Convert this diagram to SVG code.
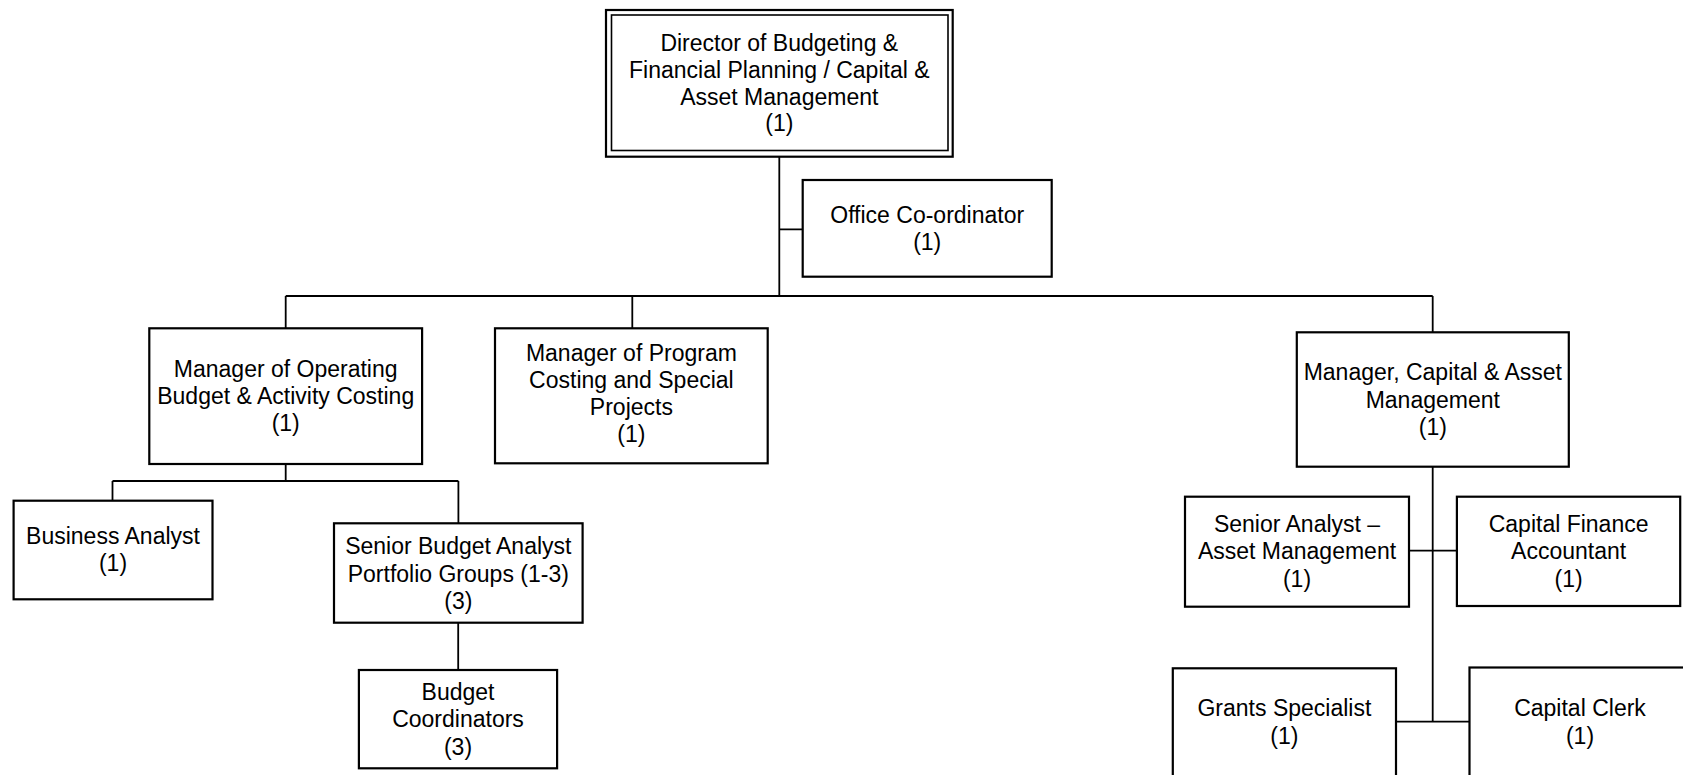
<svg xmlns="http://www.w3.org/2000/svg" width="1683" height="775" viewBox="0 0 1683 775">
<style>
.box{fill:#fff;stroke:#000;stroke-width:2.2}
.inner{fill:none;stroke:#000;stroke-width:1.6}
.t{font-family:"Liberation Sans",Arial,sans-serif;font-size:23px;fill:#000;text-anchor:middle}
.c{stroke:#000;stroke-width:1.8;fill:none}
</style>
<rect width="1683" height="775" fill="#fff"/>
<g id="connectors">
<path class="c" d="M779.3 156.7V296M779.3 229.3H802.7M285.7 296H1432.7M285.7 296V328.3M632.3 296V328.3M1432.7 296V332.3"/>
<path class="c" d="M285.7 464V481M112.5 481H458.4M112.5 481V500.7M458.4 481V523.3M458.2 622.7V670"/>
<path class="c" d="M1432.7 466.7V721.7M1409 550.7H1456.9M1396 721.7H1469.5"/>
</g>
<g id="director">
<rect class="box" x="606" y="10" width="346.7" height="146.7" stroke-width="2.6"/>
<rect class="inner" x="611.5" y="15" width="336.5" height="135.5"/>
<text class="t" x="779.3" y="51">Director of Budgeting &amp;</text>
<text class="t" x="779.3" y="78">Financial Planning / Capital &amp;</text>
<text class="t" x="779.3" y="105">Asset Management</text>
<text class="t" x="779.3" y="131">(1)</text>
</g>
<g id="office">
<rect class="box" x="802.7" y="180" width="249" height="96.7"/>
<text class="t" x="927.2" y="223">Office Co-ordinator</text>
<text class="t" x="927.2" y="250">(1)</text>
</g>
<g id="mgr-operating">
<rect class="box" x="149.3" y="328.3" width="272.8" height="135.7"/>
<text class="t" x="285.7" y="377">Manager of Operating</text>
<text class="t" x="285.7" y="404">Budget &amp; Activity Costing</text>
<text class="t" x="285.7" y="431">(1)</text>
</g>
<g id="mgr-program">
<rect class="box" x="495" y="328.3" width="272.7" height="135"/>
<text class="t" x="631.4" y="361">Manager of Program</text>
<text class="t" x="631.4" y="388">Costing and Special</text>
<text class="t" x="631.4" y="415">Projects</text>
<text class="t" x="631.4" y="442">(1)</text>
</g>
<g id="mgr-capital">
<rect class="box" x="1296.8" y="332.3" width="272" height="134.4"/>
<text class="t" x="1432.8" y="380">Manager, Capital &amp; Asset</text>
<text class="t" x="1432.8" y="407.5">Management</text>
<text class="t" x="1432.8" y="435">(1)</text>
</g>
<g id="business-analyst">
<rect class="box" x="13.6" y="500.7" width="198.9" height="98.6"/>
<text class="t" x="113" y="544">Business Analyst</text>
<text class="t" x="113" y="571">(1)</text>
</g>
<g id="senior-budget-analyst">
<rect class="box" x="334" y="523.3" width="248.6" height="99.4"/>
<text class="t" x="458.3" y="554">Senior Budget Analyst</text>
<text class="t" x="458.3" y="581.5">Portfolio Groups (1-3)</text>
<text class="t" x="458.3" y="609">(3)</text>
</g>
<g id="budget-coordinators">
<rect class="box" x="358.9" y="670" width="198.2" height="98.3"/>
<text class="t" x="458" y="700">Budget</text>
<text class="t" x="458" y="727">Coordinators</text>
<text class="t" x="458" y="755">(3)</text>
</g>
<g id="senior-analyst">
<rect class="box" x="1185" y="496.7" width="224" height="110"/>
<text class="t" x="1297" y="532">Senior Analyst –</text>
<text class="t" x="1297" y="559">Asset Management</text>
<text class="t" x="1297" y="587">(1)</text>
</g>
<g id="capital-finance">
<rect class="box" x="1456.9" y="496.7" width="223.3" height="109.3"/>
<text class="t" x="1568.6" y="532">Capital Finance</text>
<text class="t" x="1568.6" y="559">Accountant</text>
<text class="t" x="1568.6" y="587">(1)</text>
</g>
<g id="grants-specialist">
<rect class="box" x="1172.8" y="668.3" width="223.2" height="120"/>
<text class="t" x="1284.4" y="716">Grants Specialist</text>
<text class="t" x="1284.4" y="744">(1)</text>
</g>
<g id="capital-clerk">
<rect class="box" x="1469.5" y="667.5" width="230" height="120"/>
<text class="t" x="1580" y="716">Capital Clerk</text>
<text class="t" x="1580" y="744">(1)</text>
</g>
</svg>
